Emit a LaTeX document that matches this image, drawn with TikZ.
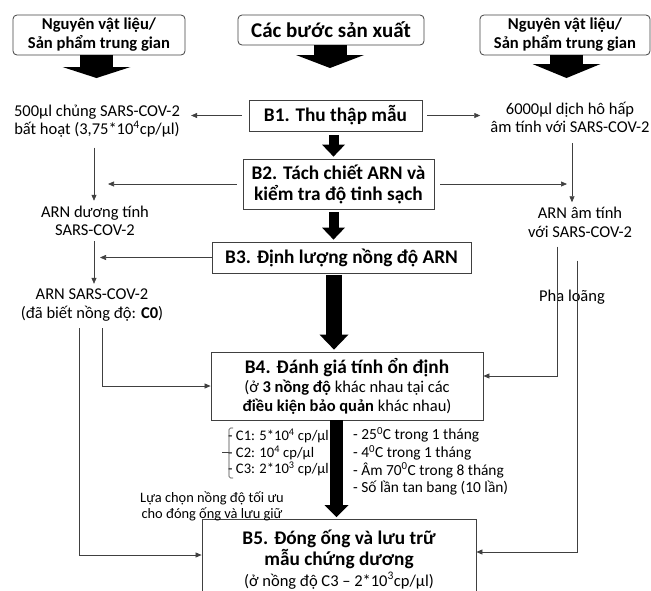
\documentclass[tikz,border=0pt]{standalone}
\usepackage{fontspec}
\setmainfont{Carlito}
\usetikzlibrary{arrows.meta}
\begin{document}
\begin{tikzpicture}[x=1pt,y=-1pt,
  box/.style={draw=black!75, line width=0.8pt, inner sep=0pt, align=center,
    font=\fontsize{19.3}{21}\selectfont\bfseries},
  hdr/.style={box, rounded corners=4pt, font=\fontsize{16.6}{19}\selectfont\bfseries},
  txt/.style={inner sep=0pt, align=center, font=\fontsize{16.5}{18.5}\selectfont},
  thin/.style={draw=black!75, line width=0.7pt, -{Triangle[length=6pt,width=5pt]}},
  hdrarrow/.style={draw=black, line width=33pt, -{Triangle[length=#1,width=68pt,line width=0pt]}},
  bigarrow/.style={draw=black, line width=10pt, -{Triangle[length=12pt,width=23pt,line width=0pt]}},
]
\useasboundingbox (0,0) rectangle (651,590);
\clip (0,0) rectangle (651,590);

% headers
\node[hdr, minimum width=172pt, minimum height=40pt] (hl) at (99,35) {Nguyên vật liệu/\\Sản phẩm trung gian};
\node[hdr, minimum width=186pt, minimum height=30pt, font=\fontsize{21}{23}\selectfont\bfseries] (hc) at (331,30) {Các bước sản xuất};
\node[hdr, minimum width=170pt, minimum height=40pt] (hr) at (565,35) {Nguyên vật liệu/\\Sản phẩm trung gian};
\coordinate (hlt) at (96.5,78);
\coordinate (hct) at (330,68);
\coordinate (hrt) at (566.5,78);
\draw[hdrarrow=11pt] (hl.south -| hlt) -- (hlt);
\draw[hdrarrow=13pt] (hc.south -| hct) -- (hct);
\draw[hdrarrow=14pt] (hr.south -| hrt) -- (hrt);

% main boxes
\node[box, minimum width=173pt, minimum height=31pt] (b1) at (335.5,115.5) {B1. Thu thập mẫu};
\node[box, minimum width=191pt, minimum height=50pt] (b2) at (338.5,184) {B2. Tách chiết ARN và\\kiểm tra độ tinh sạch};
\node[box, minimum width=259pt, minimum height=31pt] (b3) at (341.5,257.5) {B3. Định lượng nồng độ ARN};
\node[box, minimum width=272pt, minimum height=68pt, font=\fontsize{16.5}{19}\selectfont] (b4) at (347,386)
  {{\fontsize{19.3}{21}\selectfont\bfseries B4. Đánh giá tính ổn định}\\(ở \textbf{3 nồng độ} khác nhau tại các\\\textbf{điều kiện bảo quản} khác nhau)};
\node[box, anchor=north, minimum width=274pt, minimum height=80pt] (b5) at (339,519)
  {B5. Đóng ống và lưu trữ\\mẫu chứng dương\\{\fontsize{16.5}{19}\selectfont\mdseries (ở nồng độ C3 – 2*10\textsuperscript{3}cp/µl)}};

% big arrows
\coordinate (m1) at (333.5,0);
\coordinate (m3) at (334,0);
\coordinate (m4) at (336.5,0);
\draw[bigarrow, shorten <=4pt, shorten >=2pt] (b1.south -| m1) -- (b2.north -| m1);
\draw[bigarrow, shorten <=3pt, shorten >=2pt] (b2.south -| m1) -- (b3.north -| m1);
\draw[bigarrow, line width=16pt, -{Triangle[length=15pt,width=29pt,line width=0pt]}, shorten <=2pt, shorten >=2pt] (b3.south -| m3) -- (b4.north -| m3);
\draw[bigarrow, line width=13pt, -{Triangle[length=12pt,width=24pt,line width=0pt]}, shorten >=2pt] (b4.south -| m4) -- (b5.north -| m4);

% side texts
\node[txt] (src) at (97,121) {500µl chủng SARS-COV-2\\bất hoạt (3,75*10\textsuperscript{4}cp/µl)};
\node[txt] (pos) at (95,221) {ARN dương tính\\SARS-COV-2};
\node[txt] (c0) at (92,305) {ARN SARS-COV-2\\(đã biết nồng độ: \textbf{C0})};
\node[txt] (neg) at (570,117.5) {6000µl dịch hô hấp\\âm tính với SARS-COV-2};
\node[txt] (negarn) at (580,222.5) {ARN âm tính\\với SARS-COV-2};
\node[txt] (pha) at (572,297) {Pha loãng};

% lists
\node[inner sep=0pt, align=left, anchor=west, font=\fontsize{14.6}{16.5}\selectfont] (conc) at (228,452.5)
  {- C1: 5*10\textsuperscript{4} cp/µl\\- C2: 10\textsuperscript{4} cp/µl\\- C3: 2*10\textsuperscript{3} cp/µl};
\draw[draw=black!75, line width=0.6pt, rounded corners=1.5pt] ([xshift=5pt]conc.west |- 0,428) -- ([xshift=1pt]conc.west |- 0,428) -- ([xshift=1pt]conc.west |- 0,478) -- ([xshift=5pt]conc.west |- 0,478);
\draw[draw=black!75, line width=0.6pt] ([xshift=-6pt]conc.west) -- ([xshift=1pt]conc.west);
\node[inner sep=0pt, align=left, anchor=west, font=\fontsize{15.4}{17.7}\selectfont] (cond) at (353,461.5)
  {- 25\textsuperscript{0}C trong 1 tháng\\- 4\textsuperscript{0}C trong 1 tháng\\- Âm 70\textsuperscript{0}C trong 8 tháng\\- Số lần tan bang (10 lần)};
\node[inner sep=0pt, align=center, font=\fontsize{14.4}{15.5}\selectfont] (choose) at (212,506.5)
  {Lựa chọn nồng độ tối ưu\\cho đóng ống và lưu giữ};

% thin connectors
\coordinate (colL) at (94,0);
\coordinate (colR) at (572,0);
\coordinate (cA) at (102,0);
\coordinate (cB) at (79,0);
\coordinate (cC) at (557,0);
\coordinate (cD) at (577,0);
\draw[thin, shorten <=7pt, shorten >=11pt] (b1.west) -- (b1.west -| src.east);
\draw[thin, shorten <=5pt, shorten >=10pt] (b1.east) -- (b1.east -| neg.west);
\draw[thin, shorten <=10pt, shorten >=5pt] (src.south -| colL) -- (pos.north -| colL);
\draw[thin, shorten <=6pt, shorten >=14pt] (b2.west) -- (b2.west -| colL);
\draw[thin, shorten <=6pt, shorten >=5pt] (b2.east) -- (b2.east -| colR);
\draw[thin, shorten <=5pt, shorten >=5pt] (pos.south -| colL) -- (c0.north -| colL);
\draw[thin, shorten >=6pt] (b3.west) -- (b3.west -| colL);
\draw[thin, shorten <=10pt, shorten >=5pt] (neg.south -| colR) -- (negarn.north -| colR);
\draw[thin, shorten <=7pt] (c0.south -| cA) |- (b4.west);
\draw[thin, shorten <=7pt] (c0.south -| cB) |- ([yshift=-36pt]b5.north west);
\draw[thin, shorten <=9pt] (negarn.south -| cC) |- ([yshift=10pt]b4.east);
\draw[thin, shorten <=23pt] (negarn.south -| cD) |- ([yshift=-33pt]b5.north east);
\end{tikzpicture}
\end{document}
